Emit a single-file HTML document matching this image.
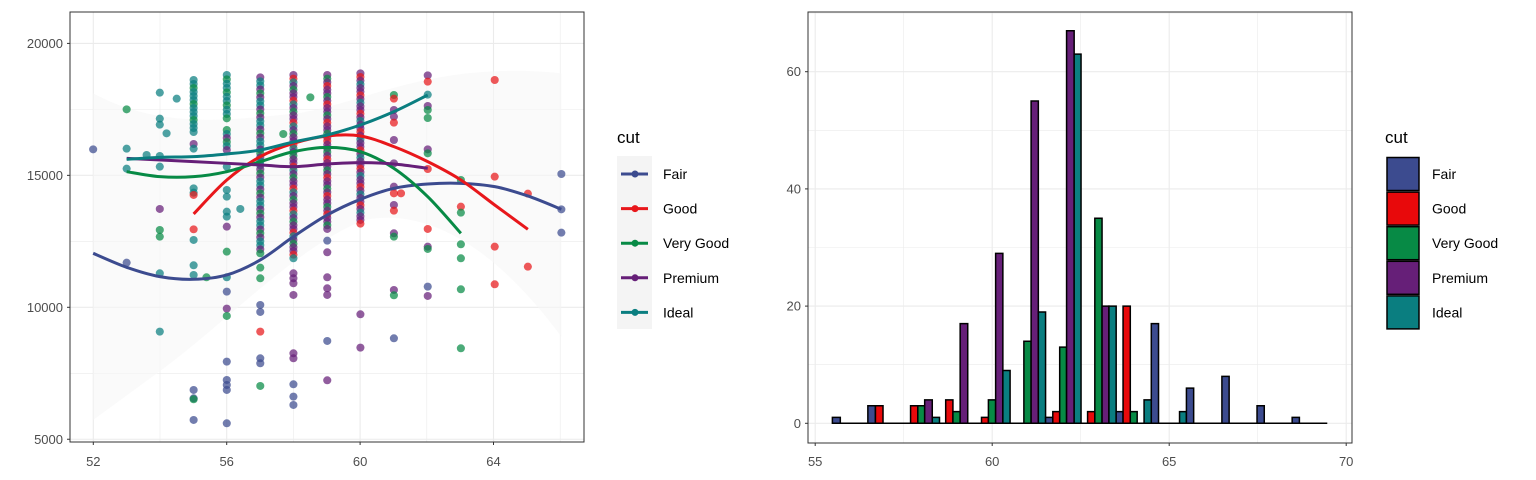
<!DOCTYPE html>
<html><head><meta charset="utf-8"><style>
body{margin:0;background:#fff;}
svg{display:block;font-family:"Liberation Sans",sans-serif;}
</style></head><body>
<svg id="s" width="1536" height="480" viewBox="0 0 1536 480" xmlns="http://www.w3.org/2000/svg">
<rect width="1536" height="480" fill="#fff"/>
<g id="L"></g>
<g id="R"></g>
</svg>
<script>
const NS="http://www.w3.org/2000/svg";
function el(p,t,a,txt){const e=document.createElementNS(NS,t);for(const k in a)e.setAttribute(k,a[k]);if(txt!==undefined)e.textContent=txt;p.appendChild(e);return e;}
const C={F:"#3c4b8f",G:"#e8171b",V:"#078a45",P:"#661f78",I:"#0a7e80"};
const L=document.getElementById("L"),R=document.getElementById("R");
const X=v=>93.3+(v-52)*33.35, Y=p=>43.4+(20000-p)*0.02639;
for(let v=52;v<=66;v+=2) el(L,"line",{x1:X(v),x2:X(v),y1:12,y2:442,stroke:"#ebebeb","stroke-width":(v%4==0?1.1:0.6)});
for(let p=5000;p<=20000;p+=2500) el(L,"line",{x1:70,x2:584,y1:Y(p),y2:Y(p),stroke:"#ebebeb","stroke-width":(p%5000==0?1.1:0.6)});
const g=el(L,"g",{transform:"translate(60,20) scale(0.3383,0.3333)"});
el(g,"path",{d:"M98,220 C300,330 500,300 700,280 C900,250 1100,120 1482,160 L1482,950 C1300,700 1100,560 900,600 C700,680 500,900 300,1050 L98,1200 Z",fill:"#f6f6f6","fill-opacity":0.6});
const pts=[
["F",98,388],["V",197,268],["I",197,386],["I",197,446],["F",197,728],
["I",295,218],["I",295,296],["I",295,314],["I",295,408],["I",295,440],["P",295,567],["V",295,630],["V",295,650],["I",295,760],["I",295,935],
["I",256,405],["I",315,340],["I",345,236],
["P",395,372],["I",395,386],["I",395,505],["I",395,518],["G",395,525],["G",395,628],["I",395,660],["I",395,736],["I",395,765],["F",395,1110],["F",395,1135],["V",395,1138],["F",395,1200],
["V",433,772],
["I",493,440],["I",493,510],["I",493,530],["I",493,575],["I",493,590],["P",493,620],["V",493,695],["I",493,772],["F",493,815],["P",493,866],["V",493,888],["F",493,1025],["F",493,1080],["F",493,1095],["F",493,1110],["F",493,1210],
["I",533,567],
["V",592,743],["V",592,775],["F",592,855],["F",592,876],["G",592,935],["F",592,1015],["F",592,1030],["V",592,1098],
["V",660,342],["V",740,232],
["P",690,760],["P",690,775],["P",690,790],["P",690,825],["P",690,1000],["P",690,1015],["F",690,1093],["F",690,1130],["F",690,1155],
["F",790,662],["P",790,697],["P",790,772],["P",790,805],["P",790,825],["F",790,963],["P",790,1081],
["P",888,883],["P",888,983],
["V",987,225],["G",987,236],["P",987,270],["P",987,290],["G",987,308],["P",987,360],["P",987,430],["P",987,500],["G",987,520],["P",987,555],["G",987,572],["P",987,640],["V",987,650],["P",987,810],["V",987,826],["F",987,955],["G",1008,520],
["P",1087,166],["G",1087,185],["I",1087,224],["P",1087,258],["V",1087,270],["V",1087,294],["P",1087,388],["V",1087,400],["G",1087,447],["G",1087,627],["P",1087,680],["V",1087,687],["F",1087,800],["P",1087,828],
["V",1185,480],["G",1185,560],["V",1185,578],["V",1185,673],["V",1185,715],["V",1185,808],["V",1185,985],
["G",1285,180],["G",1285,470],["G",1285,680],["G",1285,793],
["G",1383,521],["G",1383,740],
["F",1482,462],["F",1482,568],["F",1482,638]];
function col(x,y0,y1,cols,step){let i=0;for(let y=y0;y<=y1;y+=step){pts.push([cols[i%cols.length],x,y]);i++;}}
col(395,180,340,["I","I","V","I"],12);
col(493,165,300,["I","V","I"],13);col(493,330,400,["V","I","P"],12);
col(592,172,700,["P","I","I","P","V"],12);
col(690,165,720,["P","G","I","P","V","P"],11);
col(790,165,630,["P","V","P","G","P"],11);
col(888,160,620,["P","G","P","I","P"],11);
for(const [c,x,y] of pts) el(g,"circle",{cx:x,cy:y,r:12,fill:C[c],"fill-opacity":0.72});
const lines={
I:[[197,418],[295,412],[395,410],[493,402],[592,390],[690,366],[790,345],[888,315],[987,275],[1087,225]],
P:[[197,415],[395,425],[592,435],[690,440],[790,432],[888,428],[987,432],[1087,445]],
V:[[197,455],[295,470],[395,470],[493,455],[592,425],[690,395],[790,382],[888,395],[987,445],[1087,530],[1185,640]],
G:[[395,582],[493,480],[592,410],[690,370],[790,348],[888,348],[987,380],[1087,425],[1185,480],[1285,555],[1383,628]],
F:[[98,700],[197,742],[295,770],[395,778],[493,765],[592,720],[690,650],[790,585],[888,538],[987,505],[1087,492],[1185,490],[1285,500],[1383,528],[1482,568]]};
function smooth(p){let d="M"+p[0];for(let i=0;i<p.length-1;i++){const p0=p[i-1]||p[i],p1=p[i],p2=p[i+1],p3=p[i+2]||p2;
d+=" C"+(p1[0]+(p2[0]-p0[0])/6)+","+(p1[1]+(p2[1]-p0[1])/6)+" "+(p2[0]-(p3[0]-p1[0])/6)+","+(p2[1]-(p3[1]-p1[1])/6)+" "+p2;}return d;}
for(const k of ["F","G","V","P","I"]) el(g,"path",{d:smooth(lines[k]),fill:"none",stroke:C[k],"stroke-width":3,"vector-effect":"non-scaling-stroke"});
el(L,"rect",{x:70,y:12,width:514,height:430,fill:"none",stroke:"#333","stroke-width":1});
for(const v of [52,56,60,64]){el(L,"line",{x1:X(v),x2:X(v),y1:442,y2:445,stroke:"#333"});el(L,"text",{x:X(v),y:466,"text-anchor":"middle","font-size":13,fill:"#4d4d4d"},v);}
for(const p of [5000,10000,15000,20000]){el(L,"line",{x1:67,x2:70,y1:Y(p),y2:Y(p),stroke:"#333"});el(L,"text",{x:63,y:Y(p)+4.5,"text-anchor":"end","font-size":13,fill:"#4d4d4d"},p);}
el(L,"text",{x:617,y:143,"font-size":17,fill:"#000"},"cut");
el(L,"rect",{x:617,y:156,width:35,height:173,fill:"#f4f4f4"});
const names=["Fair","Good","Very Good","Premium","Ideal"],keys=["F","G","V","P","I"];
keys.forEach((k,i)=>{const y=174+i*34.6;el(L,"line",{x1:621,x2:648,y1:y,y2:y,stroke:C[k],"stroke-width":3});el(L,"circle",{cx:635,cy:y,r:3.5,fill:C[k]});
el(L,"text",{x:663,y:y+5,"font-size":14,fill:"#000"},names[i]);});
const RX=v=>815.2+(v-55)*35.4, RY=c=>423.3-c*5.86;
for(let v=55;v<=70;v+=2.5) el(R,"line",{x1:RX(v),x2:RX(v),y1:12,y2:443,stroke:"#ebebeb","stroke-width":(v%5==0?1.1:0.6)});
for(let c=0;c<=70;c+=10) el(R,"line",{x1:808,x2:1352,y1:RY(c),y2:RY(c),stroke:"#ebebeb","stroke-width":(c%20==0?1.1:0.6)});
const g2=el(R,"g",{transform:"translate(810,20) scale(0.3444,0.3333)"});
el(g2,"line",{x1:65,x2:1502,y1:1210,y2:1210,stroke:"#000","stroke-width":1.5,"vector-effect":"non-scaling-stroke"});
const bars=[["F",65,88,1],["F",168,190,3],["G",190,212,3],["G",292,313,3],["V",313,333,3],["P",333,355,4],["I",355,376,1],
["G",394,415,4],["V",415,436,2],["P",436,458,17],["G",498,518,1],["V",518,539,4],["P",539,560,29],["I",560,581,9],
["V",621,642,14],["P",642,663,55],["I",663,684,19],["F",684,705,1],["G",705,725,2],["V",725,745,13],["P",745,767,67],["I",767,787,63],
["G",806,827,2],["V",827,848,35],["P",848,868,20],["I",868,889,20],["F",889,909,2],["G",909,930,20],["V",930,950,2],
["I",970,991,4],["F",991,1012,17],["I",1073,1093,2],["F",1093,1114,6],["F",1196,1217,8],["F",1298,1319,3],["F",1400,1421,1]];
for(const [c,a,b,n] of bars){const h=n*17.58;el(g2,"rect",{x:a,y:1210-h,width:b-a,height:h,fill:C[c]=="#e8171b"?"#e8090b":C[c],stroke:"#000","stroke-width":1.5,"vector-effect":"non-scaling-stroke"});}
el(R,"rect",{x:808,y:12,width:544,height:431,fill:"none",stroke:"#333","stroke-width":1});
for(const v of [55,60,65,70]){el(R,"line",{x1:RX(v),x2:RX(v),y1:443,y2:446,stroke:"#333"});el(R,"text",{x:RX(v),y:466,"text-anchor":"middle","font-size":13,fill:"#4d4d4d"},v);}
for(const c of [0,20,40,60]){el(R,"line",{x1:805,x2:808,y1:RY(c),y2:RY(c),stroke:"#333"});el(R,"text",{x:801,y:RY(c)+4.5,"text-anchor":"end","font-size":13,fill:"#4d4d4d"},c);}
el(R,"text",{x:1385,y:143,"font-size":17,fill:"#000"},"cut");
keys.forEach((k,i)=>{const y=157+i*34.6;el(R,"rect",{x:1387,y:y+0.5,width:32,height:33,fill:C[k]=="#e8171b"?"#e8090b":C[k],stroke:"#000","stroke-width":1.5});
el(R,"text",{x:1432,y:y+22,"font-size":14,fill:"#000"},names[i]);});
</script>
</body></html>
